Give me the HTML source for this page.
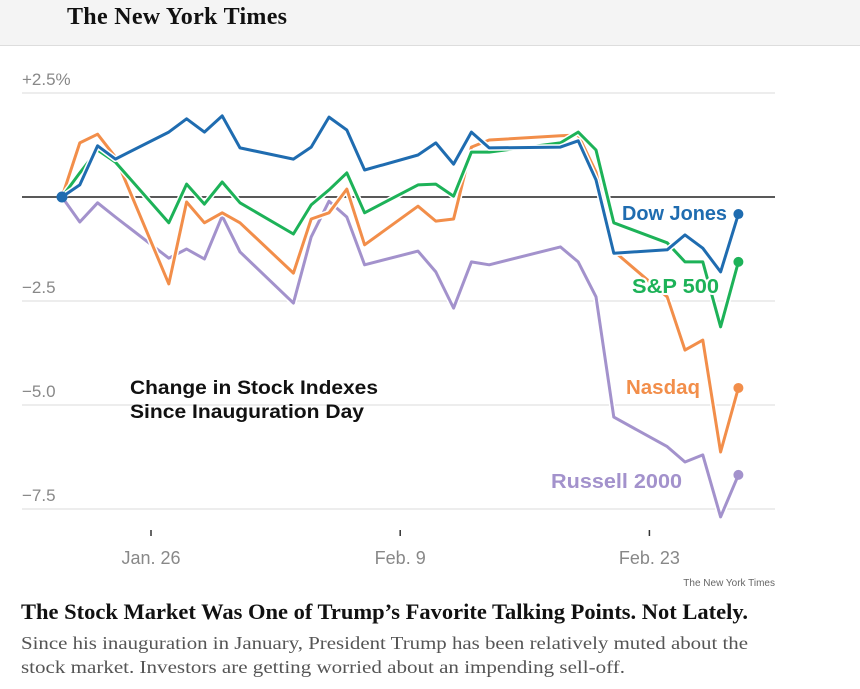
<!DOCTYPE html>
<html><head><meta charset="utf-8">
<style>
html,body{margin:0;padding:0;background:#fff;width:860px;height:689px;overflow:hidden;font-family:"Liberation Sans",sans-serif}
.lbl{paint-order:stroke;stroke:#fff;stroke-width:4px;stroke-linejoin:round}
</style></head>
<body>
<svg id="chart" width="860" height="689" viewBox="0 0 860 689" xmlns="http://www.w3.org/2000/svg">
  <rect x="0" y="0" width="860" height="45" fill="#f4f4f4"/>
  <line x1="0" y1="45.5" x2="860" y2="45.5" stroke="#ddd"/>
  <text x="67" y="24" font-family="'Liberation Serif',serif" font-weight="bold" font-size="24" fill="#111" textLength="220">The New York Times</text>
  <g id="grid"></g>
  <g id="lines"></g>
  <text x="130" y="394" font-weight="bold" font-size="19" fill="#111" textLength="248" lengthAdjust="spacingAndGlyphs">Change in Stock Indexes</text>
  <text x="130" y="418" font-weight="bold" font-size="19" fill="#111" textLength="234" lengthAdjust="spacingAndGlyphs">Since Inauguration Day</text>
  <text class="lbl" x="622" y="220" font-weight="bold" font-size="20" fill="#1f6cb0" textLength="105" lengthAdjust="spacingAndGlyphs">Dow Jones</text>
  <text class="lbl" x="632" y="293" font-weight="bold" font-size="20" fill="#1db258" textLength="87" lengthAdjust="spacingAndGlyphs">S&amp;P 500</text>
  <text class="lbl" x="626" y="394" font-weight="bold" font-size="20" fill="#f28e4a" textLength="74" lengthAdjust="spacingAndGlyphs">Nasdaq</text>
  <text class="lbl" x="551" y="488" font-weight="bold" font-size="20" fill="#a392cc" textLength="131" lengthAdjust="spacingAndGlyphs">Russell 2000</text>
  <text x="775" y="586" text-anchor="end" font-size="10" fill="#666">The New York Times</text>
  <text x="21" y="619" font-family="'Liberation Serif',serif" font-weight="bold" font-size="22" fill="#111" textLength="727" lengthAdjust="spacingAndGlyphs">The Stock Market Was One of Trump’s Favorite Talking Points. Not Lately.</text>
  <text x="21" y="649" font-family="'Liberation Serif',serif" font-size="18" fill="#555" textLength="727" lengthAdjust="spacingAndGlyphs">Since his inauguration in January, President Trump has been relatively muted about the</text>
  <text x="21" y="673" font-family="'Liberation Serif',serif" font-size="18" fill="#555" textLength="604" lengthAdjust="spacingAndGlyphs">stock market. Investors are getting worried about an impending sell-off.</text>
</svg>
<script>
const days = [0,1,2,3, 6,7,8,9,10, 13,14,15,16,17, 20,21,22,23,24, 28,29,30,31, 34,35,36,37,38];
const dowValues = [0,0.29,1.23,0.91, 1.56,1.88,1.56,1.95,1.18, 0.91,1.2,1.92,1.61,0.65, 1.01,1.3,0.79,1.56,1.18, 1.2,1.35,0.41,-1.35, -1.27,-0.91,-1.23,-1.8,-0.41];
const spValues = [0,0.58,1.13,0.84, -0.62,0.31,-0.17,0.36,-0.14, -0.89,-0.19,0.17,0.58,-0.38, 0.29,0.31,0.02,1.08,1.08, 1.3,1.56,1.13,-0.62, -1.1,-1.56,-1.56,-3.12,-1.56];
const nasdaqValues = [0,1.3,1.51,0.96, -2.09,-0.12,-0.62,-0.38,-0.62, -1.83,-0.53,-0.38,0.19,-1.15, -0.22,-0.58,-0.53,1.2,1.37, 1.47,1.49,0.6,-1.3, -2.4,-3.68,-3.44,-6.13,-4.59];
const russellValues = [0,-0.6,-0.14,-0.48, -1.47,-1.25,-1.49,-0.46,-1.32, -2.55,-0.96,-0.1,-0.48,-1.63, -1.3,-1.8,-2.67,-1.56,-1.63, -1.2,-1.56,-2.4,-5.29, -6.0,-6.37,-6.2,-7.69,-6.68];
const yTicks = [2.5,0,-2.5,-5,-7.5];
const yTickLabels = ["+2.5%","","−2.5","−5.0","−7.5"];
const xTickDays = [5,19,33];
const xTickLabels = ["Jan. 26","Feb. 9","Feb. 23"];

const NS="http://www.w3.org/2000/svg";
const x = d => 62 + d*17.8;
const y = v => 197 - v*41.6;
const grid=document.getElementById('grid'), lines=document.getElementById('lines');
function mk(tag,attrs,parent){const e=document.createElementNS(NS,tag);for(const k in attrs)e.setAttribute(k,attrs[k]);parent.appendChild(e);return e;}

yTicks.forEach((t,i)=>{
  const l=mk('line',{x1:22,x2:775,y1:y(t),y2:y(t),stroke:t===0?'#222':'#e2e2e2','stroke-width':t===0?1.5:1.2},grid);
  
  
  if(yTickLabels[i]){
    const tx=mk('text',{x:22,y:y(t)-8,'font-size':17,fill:'#888'},grid);
    tx.textContent=yTickLabels[i];
    
    
  }
});
xTickDays.forEach((d,i)=>{
  const l=mk('line',{x1:x(d),x2:x(d),y1:530,y2:536,stroke:'#333','stroke-width':1.5},grid);
  
  
  const tx=mk('text',{x:x(d),y:564,'text-anchor':'middle','font-size':18,fill:'#888'},grid);
  tx.textContent=xTickLabels[i];
  
  
});

const series=[
  ['russell-2000',russellValues,'#a392cc'],
  ['nasdaq',nasdaqValues,'#f28e4a'],
  ['sp500',spValues,'#1db258'],
  ['dow-jones',dowValues,'#1f6cb0']
];
series.forEach(([name,vals,color])=>{
  const pts=vals.map((v,i)=>x(days[i]).toFixed(1)+','+y(v).toFixed(1)).join(' ');
  const halo=mk('polyline',{points:pts,fill:'none',stroke:'#fff','stroke-width':6,'stroke-linejoin':'round'},lines);
  
  
  const pl=mk('polyline',{points:pts,fill:'none',stroke:color,'stroke-width':3,'stroke-linejoin':'round'},lines);
  
  
  const n=vals.length-1;
  const c=mk('circle',{cx:x(days[n]),cy:y(vals[n]),r:5,fill:color},lines);
  
  
});
const s=mk('circle',{cx:x(days[0]),cy:y(dowValues[0]),r:5.5,fill:'#1f6cb0'},lines);


</script>
</body></html>
